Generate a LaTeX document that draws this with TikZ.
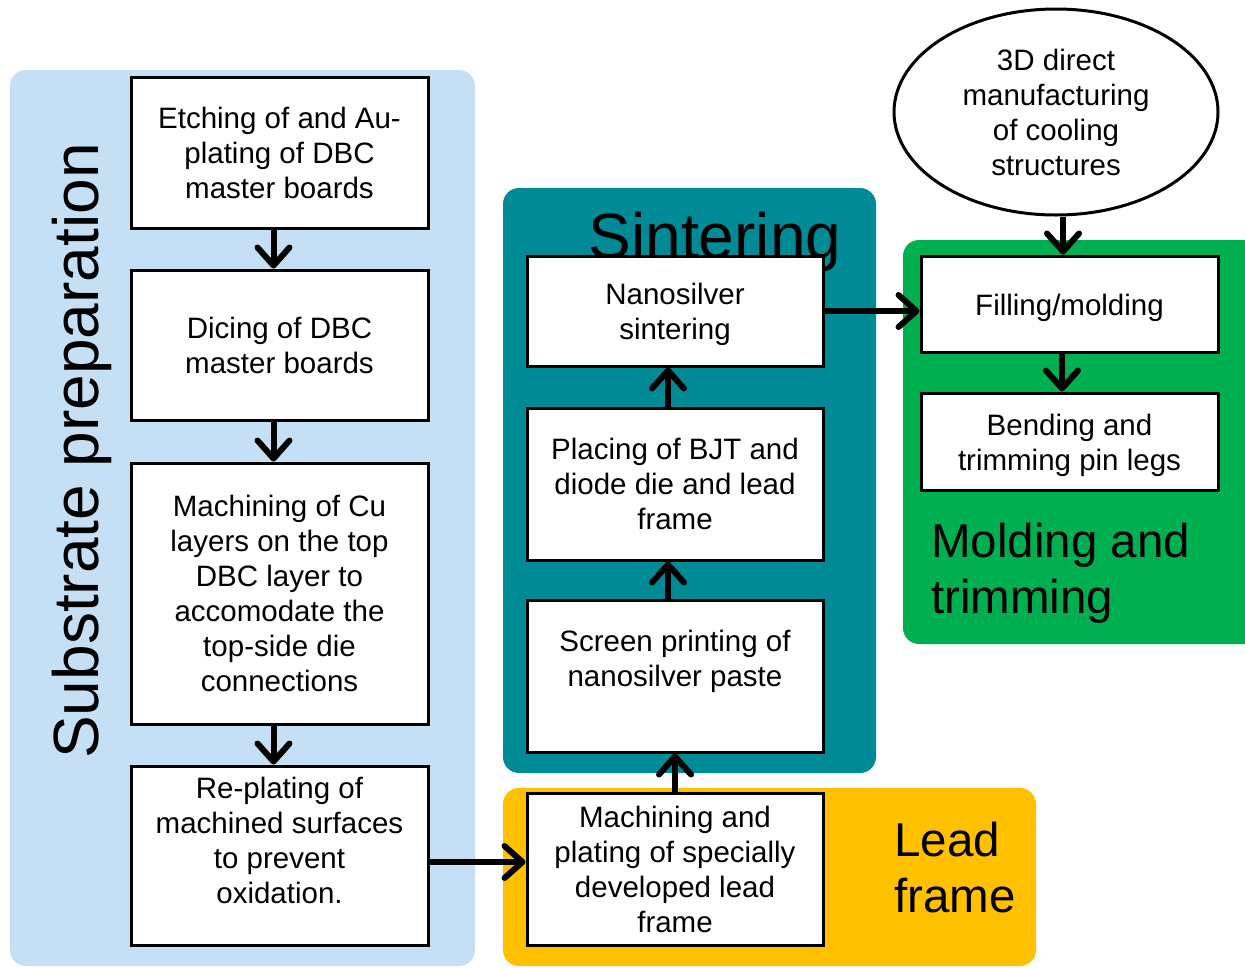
\documentclass[tikz,border=0pt]{standalone}
\usepackage{fontspec}
\setmainfont{Liberation Sans}
\usetikzlibrary{arrows.meta,shapes.geometric,calc}

\definecolor{subblue}{RGB}{197,224,244}
\definecolor{sinteal}{RGB}{0,138,150}
\definecolor{leadyellow}{RGB}{255,192,0}
\definecolor{moldgreen}{RGB}{0,176,80}

\tikzset{
  region/.style={rounded corners=16pt, draw=none},
  stepbox/.style={draw=black, line width=3pt, fill=white, inner sep=0pt,
    minimum width=297pt, align=center,
    font=\fontsize{29.5}{35}\selectfont},
  steptext/.style={align=center, inner sep=0pt,
    font=\fontsize{29.5}{35}\selectfont},
  grouplabel/.style={inner sep=0pt, font=\fontsize{64}{70}\selectfont},
  sidelabel/.style={inner sep=0pt, align=left,
    font=\fontsize{47.5}{56}\selectfont},
  flow/.style={line width=6pt, line cap=butt,
    -{Straight Barb[length=18pt,width=32pt,line width=6pt,round]}}
}

\begin{document}
\begin{tikzpicture}[x=1pt,y=-1pt]
\useasboundingbox (0,0) rectangle (1245,967);

% coloured process groups
\fill[region, subblue]    (10,70)   rectangle (475,966);
\fill[region, sinteal]    (503,188) rectangle (876,773);
\fill[region, leadyellow] (503,788) rectangle (1036,966);
\fill[region, moldgreen]  (903,240) rectangle (1265,644);

% group titles
\node[grouplabel, rotate=90, anchor=base] (tsub) at (98,451) {Substrate preparation};
\node[grouplabel, anchor=base] (tsin) at (715,258) {Sintering};
\node[sidelabel, anchor=north west] (tmold) at (931,523) {Molding and\\trimming};
\node[sidelabel, anchor=north west] (tlead) at (894,822) {Lead\\frame};

% substrate preparation steps
\node[stepbox, minimum height=151pt] (et) at (279.5,152.5) {Etching of and Au-\\plating of DBC\\master boards};
\node[stepbox, minimum height=150pt] (dc) at (279.5,345) {Dicing of DBC\\master boards};
\node[stepbox, minimum height=261pt] (mc) at (279.5,593.5) {Machining of Cu\\layers on the top\\DBC layer to\\accomodate the\\top-side die\\connections};
\node[stepbox, minimum height=179pt] (rp) at (279.5,855.5) {};
\node[steptext] (rpt) at (279.5,840) {Re-plating of\\machined surfaces\\to prevent\\oxidation.};

% lead frame and sintering steps
\node[stepbox, minimum width=296pt, minimum height=152pt] (lf) at (675,869) {Machining and\\plating of specially\\developed lead\\frame};
\node[stepbox, minimum width=296pt, minimum height=152pt] (sp) at (675,676) {};
\node[steptext] (spt) at (675,661) {Screen printing of\\nanosilver paste};
\node[stepbox, minimum width=296pt, minimum height=152pt] (pl) at (675,484) {Placing of BJT and\\diode die and lead\\frame};
\node[stepbox, minimum width=296pt, minimum height=110pt] (ns) at (675,311) {};
\node[steptext] (nst) at (675,314) {Nanosilver\\sintering};

% molding and trimming steps
\node[draw=black, line width=3pt, fill=white, ellipse, inner sep=0pt,
      minimum width=324pt, minimum height=206pt, align=center,
      font=\fontsize{29.5}{35}\selectfont] (el) at (1056,112)
      {3D direct\\manufacturing\\of cooling\\structures};
\node[stepbox, minimum height=96pt] (fm) at (1069.5,304) {};
\node[steptext] (fmt) at (1069.5,308) {Filling/molding};
\node[stepbox, minimum height=97pt] (bt) at (1069.5,441.5) {};
\node[steptext] (btt) at (1069.5,445) {Bending and\\trimming pin legs};

% process flow
\draw[flow] ([xshift=-6pt]et.south) -- ([xshift=-6pt]dc.north);
\draw[flow] ([xshift=-6pt]dc.south) -- ([xshift=-6pt]mc.north);
\draw[flow] ([xshift=-6pt]mc.south) -- ([xshift=-6pt]rp.north);
\draw[flow] ([yshift=-6.5pt]rp.east) -- ([yshift=-6.5pt]rp.east -| lf.west);
\draw[flow] (lf.north) -- (sp.south);
\draw[flow] ([xshift=-7pt]sp.north) -- ([xshift=-7pt]pl.south);
\draw[flow] ([xshift=-7pt]pl.north) -- ([xshift=-7pt]ns.south);
\draw[flow] (ns.east) -- (ns.east -| fm.west);
\draw[flow] ([xshift=7pt]el.south) -- ([xshift=-6.5pt]fm.north);
\draw[flow] ([xshift=-7.5pt]fm.south) -- ([xshift=-7.5pt]bt.north);
\end{tikzpicture}
\end{document}
